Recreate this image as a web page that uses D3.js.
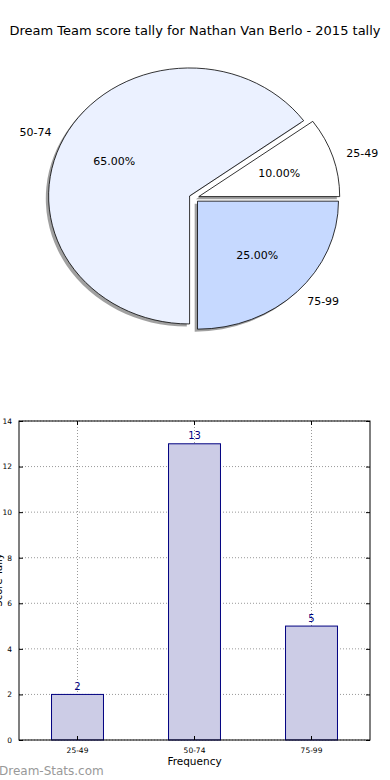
<!DOCTYPE html>
<html lang="en">
<head>
    <title>Dream Team score tally</title>
    <script src="https://d3js.org/d3.v7.min.js"></script>
    <style>
        body { margin: 0; background: white; }
        svg { display: block; font-family: "DejaVu Sans", sans-serif; }
    </style>
</head>
<body>
    <div id="chart"><svg></svg></div>

    <script>
        var width = 390;
        var height = 780;

        // data
        var categories = ["25-49", "50-74", "75-99"];
        var counts = [2, 13, 5];
        var sliceColors = ["#ffffff", "#ebf1ff", "#c6d9ff"];
        var yTicks = [0, 2, 4, 6, 8, 10, 12, 14];
        var titleText = "Dream Team score tally for Nathan Van Berlo - 2015 tally";

        var svg = d3.select("svg")
            .attr("width", width)
            .attr("height", height);

        svg.append("text")
            .attr("x", 195)
            .attr("y", 35)
            .attr("text-anchor", "middle")
            .style("font-size", "13px")
            .text(titleText);

        // ---- pie (elliptical, like matplotlib without equal aspect) ----
        var cx = 194, cy = 198, rx = 141, ry = 128;
        var explode = 0.035;
        var xp = d3.scaleLinear().domain([-1, 1]).range([cx - rx, cx + rx]);
        var yp = d3.scaleLinear().domain([-1, 1]).range([cy + ry, cy - ry]);

        // matplotlib starts at 3 o'clock going counter clockwise
        var pie = d3.pie().sort(null)
            .startAngle(Math.PI / 2)
            .endAngle(Math.PI / 2 - 2 * Math.PI);
        var arcs = pie(counts);
        var arc = d3.arc().innerRadius(0).outerRadius(1);
        var total = d3.sum(counts);

        function mid(d) { return (d.startAngle + d.endAngle) / 2; }
        function ux(d, dist) { return Math.sin(mid(d)) * dist; }
        function uy(d, dist) { return Math.cos(mid(d)) * dist; }

        var pieG = svg.append("g");

        // shadows first, under every wedge
        pieG.selectAll(".shadow")
            .data(arcs)
            .enter()
            .append("path")
            .attr("class", "shadow")
            .attr("transform", function (d) {
                return "translate(" + xp(ux(d, explode) - 0.02) + "," + yp(uy(d, explode) - 0.02) + ") scale(" + rx + "," + ry + ")";
            })
            .attr("d", arc)
            .attr("fill", "#777")
            .attr("fill-opacity", 0.7);

        pieG.selectAll(".wedge")
            .data(arcs)
            .enter()
            .append("path")
            .attr("class", "wedge")
            .attr("transform", function (d) {
                return "translate(" + xp(ux(d, explode)) + "," + yp(uy(d, explode)) + ") scale(" + rx + "," + ry + ")";
            })
            .attr("d", arc)
            .attr("fill", function (d, i) { return sliceColors[i]; })
            .attr("stroke", "#000")
            .attr("stroke-width", 0.8)
            .attr("vector-effect", "non-scaling-stroke");

        // category labels at 1.1 r
        pieG.selectAll(".plabel")
            .data(arcs)
            .enter()
            .append("text")
            .attr("x", function (d) { return xp(ux(d, explode) + ux(d, 1.1)); })
            .attr("y", function (d) { return yp(uy(d, explode) + uy(d, 1.1)); })
            .attr("dy", "0.35em")
            .attr("text-anchor", function (d) { return ux(d, 1) > 0 ? "start" : "end"; })
            .style("font-size", "11px")
            .text(function (d, i) { return categories[i]; });

        // percentages at 0.6 r
        pieG.selectAll(".pct")
            .data(arcs)
            .enter()
            .append("text")
            .attr("x", function (d) { return xp(ux(d, explode) + ux(d, 0.6)); })
            .attr("y", function (d) { return yp(uy(d, explode) + uy(d, 0.6)); })
            .attr("dy", "0.35em")
            .attr("text-anchor", "middle")
            .style("font-size", "11px")
            .text(function (d) { return (100 * d.value / total).toFixed(2) + "%"; });

        // ---- bar chart ----
        var bLeft = 19, bRight = 370, bTop = 421, bBottom = 740;
        var xb = d3.scaleBand()
            .domain(categories)
            .range([bLeft, bRight])
            .paddingInner(0.556)
            .paddingOuter(0.278);
        var yb = d3.scaleLinear().domain([0, 14]).range([bBottom, bTop]);

        var barG = svg.append("g");

        // grid
        barG.selectAll(".hgrid")
            .data(yTicks)
            .enter()
            .append("line")
            .attr("x1", bLeft).attr("x2", bRight)
            .attr("y1", function (d) { return yb(d); })
            .attr("y2", function (d) { return yb(d); })
            .attr("stroke", "#999")
            .attr("stroke-width", 1)
            .attr("stroke-dasharray", "1,2");
        barG.selectAll(".vgrid")
            .data(categories)
            .enter()
            .append("line")
            .attr("x1", function (d) { return xb(d) + xb.bandwidth() / 2; })
            .attr("x2", function (d) { return xb(d) + xb.bandwidth() / 2; })
            .attr("y1", bTop).attr("y2", bBottom)
            .attr("stroke", "#999")
            .attr("stroke-width", 1)
            .attr("stroke-dasharray", "1,2");

        barG.selectAll(".bar")
            .data(counts)
            .enter()
            .append("rect")
            .attr("x", function (d, i) { return xb(categories[i]); })
            .attr("y", function (d) { return yb(d); })
            .attr("width", xb.bandwidth())
            .attr("height", function (d) { return yb(0) - yb(d); })
            .attr("fill", "#cccce6")
            .attr("stroke", "#000080")
            .attr("stroke-width", 1);

        barG.selectAll(".vlabel")
            .data(counts)
            .enter()
            .append("text")
            .attr("x", function (d, i) { return xb(categories[i]) + xb.bandwidth() / 2; })
            .attr("y", function (d) { return yb(d) - 4.5; })
            .attr("text-anchor", "middle")
            .attr("fill", "#000080")
            .style("font-size", "10px")
            .text(function (d) { return d; });

        // axes: ticks inside, on all four sides
        var yAxisL = d3.axisLeft(yb).tickValues(yTicks).tickSizeInner(-4).tickSizeOuter(0).tickPadding(7);
        var yAxisR = d3.axisRight(yb).tickValues(yTicks).tickSizeInner(-4).tickSizeOuter(0).tickFormat("");
        var xAxisB = d3.axisBottom(xb).tickSizeInner(-4).tickSizeOuter(0).tickPadding(8);
        var xAxisT = d3.axisTop(xb).tickSizeInner(-4).tickSizeOuter(0).tickFormat("");

        function styleAxis(g) {
            g.select(".domain").remove();
            g.selectAll("line").attr("stroke", "#000");
            g.selectAll("text").style("font-size", "7.5px").attr("fill", "#000")
                .style("font-family", "DejaVu Sans, sans-serif");
        }
        barG.append("g").attr("transform", "translate(" + bLeft + ",0)").call(yAxisL).call(styleAxis);
        barG.append("g").attr("transform", "translate(" + bRight + ",0)").call(yAxisR).call(styleAxis);
        barG.append("g").attr("transform", "translate(0," + bBottom + ")").call(xAxisB).call(styleAxis);
        barG.append("g").attr("transform", "translate(0," + bTop + ")").call(xAxisT).call(styleAxis);

        barG.append("rect")
            .attr("x", bLeft).attr("y", bTop)
            .attr("width", bRight - bLeft).attr("height", bBottom - bTop)
            .attr("fill", "none")
            .attr("stroke", "#000")
            .attr("stroke-width", 1);

        svg.append("text")
            .attr("x", (bLeft + bRight) / 2)
            .attr("y", 765)
            .attr("text-anchor", "middle")
            .style("font-size", "10.5px")
            .text("Frequency");

        // y label is mostly clipped by the left edge, as in the original
        svg.append("text")
            .attr("transform", "translate(2,580) rotate(-90)")
            .attr("text-anchor", "middle")
            .style("font-size", "10px")
            .text("Score Tally");

        svg.append("text")
            .attr("x", -1)
            .attr("y", 775)
            .attr("fill", "#999")
            .style("font-size", "12px")
            .text("Dream-Stats.com");
    </script>
</body>
</html>
